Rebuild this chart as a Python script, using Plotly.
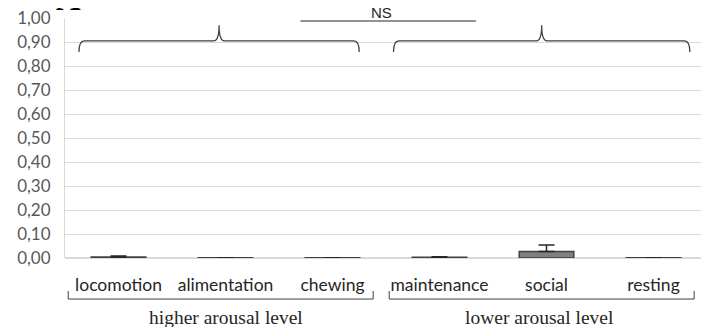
import plotly.graph_objects as go

categories = ["locomotion", "alimentation", "chewing", "maintenance", "social", "resting"]
values = [0.004, 0.001, 0.001, 0.003, 0.027, 0.001]
errors = [0.004, 0.0, 0.0, 0.002, 0.027, 0.0]
groups = ["higher arousal level", "lower arousal level"]
y_ticks = [0.0, 0.1, 0.2, 0.3, 0.4, 0.5, 0.6, 0.7, 0.8, 0.9, 1.0]

xs = list(range(len(categories)))

fig = go.Figure()
fig.add_trace(go.Bar(
    x=xs, y=values, width=0.51,
    marker=dict(color="#7f7f7f", line=dict(color="#404040", width=1.5)),
    error_y=dict(type="data", array=errors, arrayminus=[0]*len(errors), symmetric=False,
                 color="#262626", thickness=1.5, width=8),
    showlegend=False,
))

line_style = dict(color="#404040", width=1.3)


def brace(x0, x1, ybase, yend, ypeak):
    mid = (x0 + x1) / 2
    d = 0.05
    return (f"M {x0},{yend} Q {x0},{ybase} {x0+d},{ybase} L {mid-d},{ybase} "
            f"Q {mid},{ybase} {mid},{ypeak} Q {mid},{ybase} {mid+d},{ybase} "
            f"L {x1-d},{ybase} Q {x1},{ybase} {x1},{yend}")

shapes = [
    dict(type="path", xref="x", yref="y", path=brace(-0.37, 2.25, 0.905, 0.858, 0.97), line=line_style),
    dict(type="path", xref="x", yref="y", path=brace(2.57, 5.34, 0.905, 0.858, 0.97), line=line_style),
    dict(type="line", xref="x", yref="y", x0=1.70, x1=3.34, y0=0.9875, y1=0.9875,
         line=dict(color="#262626", width=1.2)),
    # bottom group brackets
    dict(type="path", xref="x", yref="paper",
         path="M -0.47,-0.1375 L -0.47,-0.171 L 2.38,-0.171 L 2.38,-0.1375", line=dict(color="#404040", width=1)),
    dict(type="path", xref="x", yref="paper",
         path="M 2.53,-0.1375 L 2.53,-0.171 L 5.38,-0.171 L 5.38,-0.1375", line=dict(color="#404040", width=1)),
]

annotations = [
    dict(text="NS", x=2.46, y=1.022, xref="x", yref="paper", showarrow=False,
         xanchor="center", yanchor="middle",
         font=dict(family="Liberation Sans", size=15, color="#262626")),
    dict(text="<b>A</b>", x=0.006, y=0.996, xref="paper", yref="paper", showarrow=False,
         xanchor="center", yanchor="bottom",
         font=dict(family="Liberation Serif", size=34, color="#000000")),
    dict(text=groups[0], x=1.0, y=-0.246, xref="x", yref="paper", showarrow=False,
         xanchor="center", yanchor="middle",
         font=dict(family="Liberation Serif", size=19.5, color="#262626")),
    dict(text=groups[1], x=3.93, y=-0.246, xref="x", yref="paper", showarrow=False,
         xanchor="center", yanchor="middle",
         font=dict(family="Liberation Serif", size=19.5, color="#262626")),
]

fig.update_layout(
    width=709, height=327,
    margin=dict(l=57, r=10, t=10, b=77, autoexpand=False),
    paper_bgcolor="white", plot_bgcolor="white",
    separators=",.",
    shapes=shapes, annotations=annotations,
    xaxis=dict(range=[-0.5, 5.5], tickvals=xs, ticktext=categories, showgrid=False,
               zeroline=False, showline=False, ticks="", ticklabelstandoff=14,
               automargin=False,
               tickfont=dict(family="Lato", size=17.5, color="#262626")),
    yaxis=dict(range=[0, 1.0], tickvals=y_ticks, tickformat=".2f", showgrid=True,
               gridcolor="#d9d9d9", gridwidth=1, zeroline=True, zerolinecolor="#d9d9d9",
               showline=True, linecolor="#d9d9d9", linewidth=1, ticks="",
               ticklabelstandoff=10, ticklabeloverflow="allow", automargin=False,
               tickfont=dict(family="Lato", size=17, color="#595959")),
)

fig.write_html("out.html")
